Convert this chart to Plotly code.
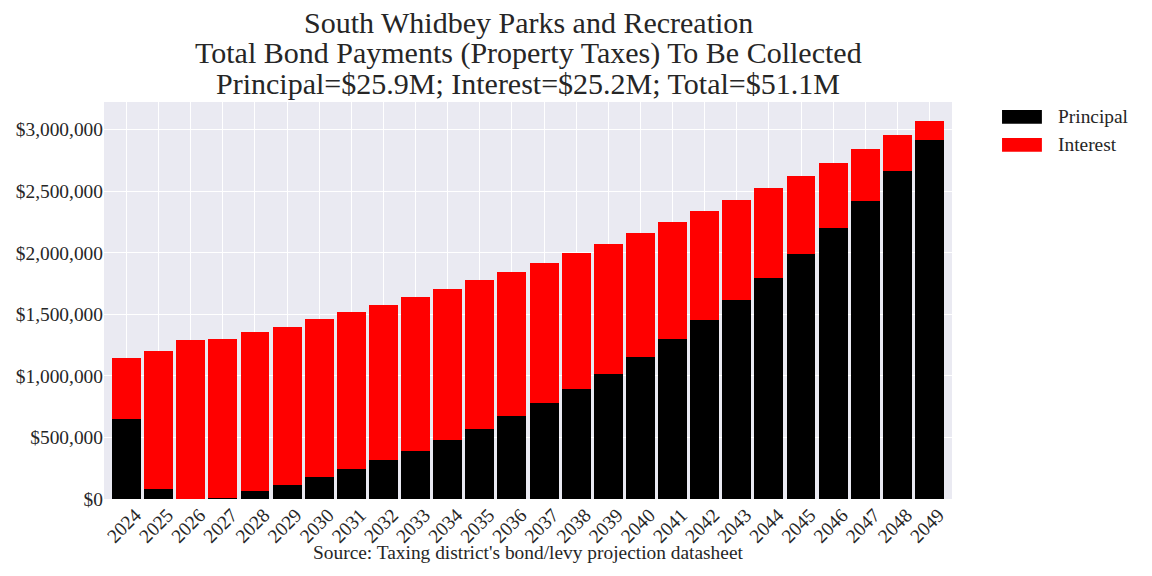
import plotly.graph_objects as go

# Years of collection
years = [str(y) for y in range(2024, 2050)]

# Principal and interest to collect each year (USD)
principal = [647000, 79000, 0, 5000, 63000, 111000, 176000, 241000, 314000, 387000,
             477000, 566000, 672000, 777000, 891000, 1013000, 1151000, 1297000, 1452000,
             1614000, 1793000, 1988000, 2199000, 2418000, 2662000, 2914000]
interest = [496000, 1121000, 1289000, 1292000, 1291000, 1284000, 1284000, 1276000, 1259000,
            1251000, 1227000, 1210000, 1170000, 1138000, 1105000, 1056000, 1007000, 951000,
            885000, 812000, 731000, 633000, 528000, 423000, 293000, 154000]

y_ticks = [0, 500000, 1000000, 1500000, 2000000, 2500000, 3000000]
y_tick_labels = ['$0', '$500,000', '$1,000,000', '$1,500,000', '$2,000,000', '$2,500,000', '$3,000,000']

title_lines = ["South Whidbey Parks and Recreation",
               "Total Bond Payments (Property Taxes) To Be Collected",
               "Principal=$25.9M; Interest=$25.2M; Total=$51.1M"]
source = "Source: Taxing district's bond/levy projection datasheet"

fnt = "Liberation Serif"
txt = '#262626'

fig = go.Figure()
fig.add_trace(go.Bar(x=years, y=principal, name='Principal', marker_color='#000000',
                     marker_line_width=0))
fig.add_trace(go.Bar(x=years, y=interest, name='Interest', marker_color='#FF0000',
                     marker_line_width=0))

# title, one annotation per line to keep the tight line spacing
for i, line in enumerate(title_lines):
    fig.add_annotation(xref='paper', yref='paper', x=0.5, y=1.2015 - i * 0.078, text=line,
                       showarrow=False, xanchor='center', yanchor='middle',
                       font=dict(family=fnt, size=30, color=txt))

# legend drawn by hand so the patches look like the wide boxes of the original
legend_items = [('Principal', '#000000'), ('Interest', '#FF0000')]
for i, (label, col) in enumerate(legend_items):
    y0 = 0.980 - i * 0.0705
    fig.add_shape(type='rect', xref='paper', yref='paper', x0=1.059, x1=1.106,
                  y0=y0 - 0.035, y1=y0, fillcolor=col, line_width=0)
    fig.add_annotation(xref='paper', yref='paper', x=1.123, y=y0 - 0.0175, text=label,
                       showarrow=False, xanchor='left', yanchor='middle',
                       font=dict(family=fnt, size=19.4, color=txt))

fig.add_annotation(xref='paper', yref='paper', x=0.5, y=-0.136, text=source,
                   showarrow=False, xanchor='center', yanchor='middle',
                   font=dict(family=fnt, size=19.4, color=txt))

fig.update_layout(
    barmode='stack',
    bargap=0.1,
    showlegend=False,
    width=1152, height=576,
    margin=dict(l=104, r=200, t=102, b=77),
    paper_bgcolor='white',
    plot_bgcolor='#EAEAF2',
    font=dict(family=fnt, color=txt),
    xaxis=dict(range=[-0.7, 25.7], tickangle=-45, showgrid=True, gridcolor='white',
               gridwidth=1, tickfont=dict(family=fnt, size=19.4, color=txt), ticks='',
               zeroline=False, automargin=False, ticklabelshift=9),
    yaxis=dict(range=[0, 3225000], tickvals=y_ticks, ticktext=y_tick_labels,
               showgrid=True, gridcolor='white', gridwidth=1, zeroline=False,
               tickfont=dict(family=fnt, size=19.4, color=txt), ticks='',
               automargin=False),
)

# drop the page's default body margin so the figure sits at the window corner
fig.write_html("out.html", config={'displayModeBar': False},
               post_script="document.body.style.margin = '0';")
